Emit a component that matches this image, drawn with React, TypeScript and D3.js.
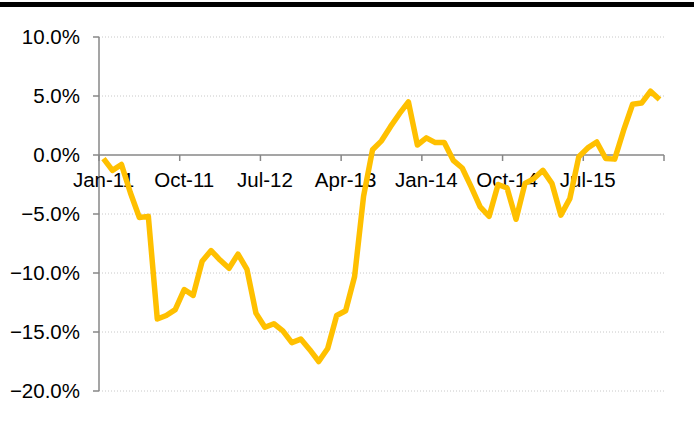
import React, { useEffect, useRef } from 'react';
import * as d3 from 'd3';

// monthly change, Jan-11 .. Mar-16
const values = [
  -0.3, -1.3, -0.8, -3.2, -5.3, -5.2, -13.9, -13.6, -13.1, -11.4,
  -11.9, -9.0, -8.1, -8.9, -9.6, -8.4, -9.7, -13.4, -14.6, -14.3,
  -14.9, -15.9, -15.6, -16.5, -17.5, -16.4, -13.6, -13.2, -10.3, -3.5,
  0.45, 1.2, 2.4, 3.5, 4.5, 0.85, 1.45, 1.05, 1.05, -0.45,
  -1.1, -2.7, -4.4, -5.2, -2.5, -2.8, -5.45, -2.4, -2.0, -1.3,
  -2.4, -5.1, -3.7, -0.15, 0.6, 1.1, -0.3, -0.35, 2.1, 4.3,
  4.4, 5.4, 4.7,
];
const months = d3.timeMonth.range(new Date(2011, 0, 1), new Date(2016, 3, 1));
const tickLabels = ['Jan-11', 'Oct-11', 'Jul-12', 'Apr-13', 'Jan-14', 'Oct-14', 'Jul-15'];
const yTicks = [10, 5, 0, -5, -10, -15, -20];
const labelEvery = 9;

export default function App() {
  const svgRef = useRef<SVGSVGElement>(null);

  useEffect(() => {
    const width = 694;
    const svg = d3.select(svgRef.current);
    svg.selectAll('*').remove();

    const font = 'Arial, "Liberation Sans", sans-serif';
    const axisColor = '#878787';

    // top rule
    svg.append('rect')
      .attr('x', 0).attr('y', 2)
      .attr('width', width).attr('height', 5)
      .attr('fill', '#000');

    const x = d3.scaleBand<number>()
      .domain(d3.range(months.length))
      .range([99, 664])
      .padding(0);

    const y = d3.scaleLinear()
      .domain([-20, 10])
      .range([391, 37]);

    // gridlines
    svg.append('g')
      .selectAll('line')
      .data(yTicks.filter(t => t !== 0))
      .enter().append('line')
      .attr('x1', 99).attr('x2', 665)
      .attr('y1', d => y(d)).attr('y2', d => y(d))
      .attr('stroke', '#c8c8c8')
      .attr('stroke-width', 1)
      .attr('stroke-dasharray', '1,2');

    // y axis
    svg.append('line')
      .attr('x1', 99).attr('x2', 99)
      .attr('y1', y(10)).attr('y2', y(-20))
      .attr('stroke', axisColor).attr('stroke-width', 1.5);

    svg.append('g')
      .selectAll('line')
      .data(yTicks)
      .enter().append('line')
      .attr('x1', 93).attr('x2', 99)
      .attr('y1', d => y(d)).attr('y2', d => y(d))
      .attr('stroke', axisColor).attr('stroke-width', 1.5);

    svg.append('g')
      .selectAll('text')
      .data(yTicks)
      .enter().append('text')
      .attr('x', 80)
      .attr('y', d => y(d))
      .attr('dy', '0.35em')
      .attr('text-anchor', 'end')
      .style('font-family', font)
      .style('font-size', '20.5px')
      .attr('fill', '#000')
      .text(d => d3.format('.1f')(d) + '%');

    // x axis at zero
    svg.append('line')
      .attr('x1', 99).attr('x2', 664)
      .attr('y1', y(0)).attr('y2', y(0))
      .attr('stroke', axisColor).attr('stroke-width', 1.5);

    const tickIdx = d3.range(0, months.length + 1, labelEvery);
    svg.append('g')
      .selectAll('line')
      .data(tickIdx)
      .enter().append('line')
      .attr('x1', d => (d < months.length ? (x(d) as number) : 664))
      .attr('x2', d => (d < months.length ? (x(d) as number) : 664))
      .attr('y1', y(0)).attr('y2', y(0) + 6)
      .attr('stroke', axisColor).attr('stroke-width', 1.5);

    svg.append('g')
      .selectAll('text')
      .data(tickLabels)
      .enter().append('text')
      .attr('x', (d, i) => (x(i * labelEvery) as number) + x.bandwidth() / 2)
      .attr('y', y(0) + 32)
      .attr('text-anchor', 'middle')
      .style('font-family', font)
      .style('font-size', '20.5px')
      .attr('fill', '#000')
      .text(d => d);

    // series line
    const line = d3.line<number>()
      .x((d, i) => (x(i) as number) + x.bandwidth() / 2)
      .y(d => y(d));

    svg.append('path')
      .datum(values)
      .attr('d', line)
      .attr('fill', 'none')
      .attr('stroke', '#FFC000')
      .attr('stroke-width', 5.5)
      .attr('stroke-linejoin', 'round');
  }, []);

  return (
    <svg
      ref={svgRef}
      width={694}
      height={439}
      style={{ position: 'absolute', left: 0, top: 0, background: '#fff' }}
    ></svg>
  );
}
